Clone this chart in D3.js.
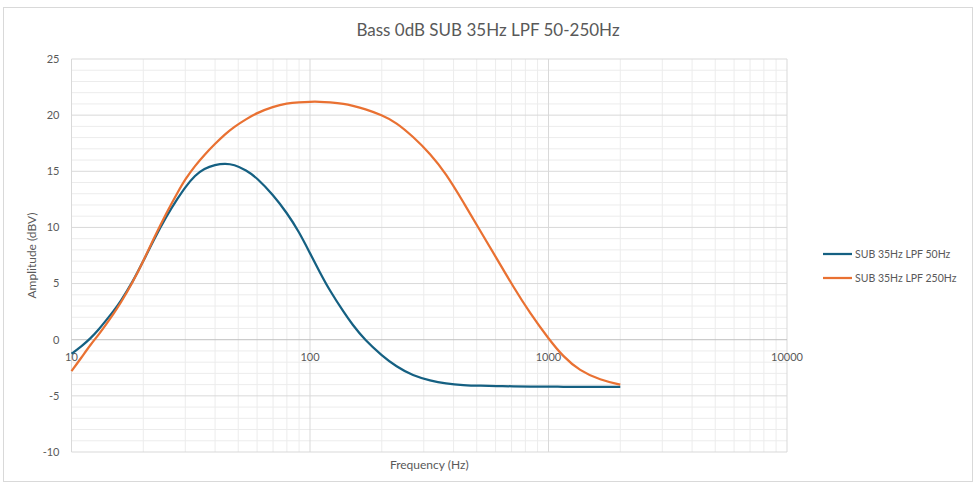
<!DOCTYPE html>
<html>
<head>
<meta charset="utf-8">
<script src="https://cdn.jsdelivr.net/npm/d3@7"></script>
<style>
  body { margin: 0; background: #fff; }
  svg { font-family: Lato, "Open Sans", sans-serif; }
</style>
</head>
<body>
<svg id="chart" width="976" height="485"></svg>
<script>
const freqs = [10, 11, 12, 13, 14, 15, 16, 18, 20, 22, 25, 28, 30, 33, 36, 40, 44, 48, 54, 60, 70, 80, 90, 100, 110, 120, 140, 150, 170, 200, 230, 270, 320, 370, 440, 520, 610, 710, 840, 1000, 1150, 1350, 1650, 2000];
const lpf50 = [-1.25, -0.6, 0.1, 0.9, 1.75, 2.55, 3.35, 5.1, 7.0, 8.8, 11.0, 12.65, 13.6, 14.65, 15.25, 15.58, 15.7, 15.6, 15.1, 14.4, 12.9, 11.3, 9.6, 7.7, 6.0, 4.5, 2.3, 1.4, -0.05, -1.4, -2.4, -3.2, -3.65, -3.9, -4.05, -4.1, -4.13, -4.15, -4.17, -4.18, -4.19, -4.2, -4.2, -4.2];
const lpf250 = [-2.8, -1.6, -0.45, 0.45, 1.4, 2.3, 3.2, 5.05, 7.0, 8.9, 11.3, 13.2, 14.3, 15.5, 16.45, 17.45, 18.3, 18.95, 19.65, 20.2, 20.75, 21.05, 21.15, 21.2, 21.2, 21.15, 21.0, 20.85, 20.55, 20.0, 19.35, 18.1, 16.55, 14.85, 12.25, 9.6, 7.15, 4.75, 2.3, 0.1, -1.5, -2.75, -3.6, -4.0];
const seriesNames = ["SUB 35Hz LPF 50Hz", "SUB 35Hz LPF 250Hz"];
const colors = ["#156082", "#E97132"];
const xTicks = [10, 100, 1000, 10000];
const yTicks = [-10, -5, 0, 5, 10, 15, 20, 25];

const svg = d3.select("#chart");
const margin = { top: 59, right: 189, bottom: 33, left: 71.5 };
const width = 976, height = 485;

// chart border
svg.append("rect")
  .attr("x", 3.5).attr("y", 7.5)
  .attr("width", 969).attr("height", 474)
  .attr("fill", "#fff").attr("stroke", "#d9d9d9");

const x = d3.scaleLog().domain([10, 10000]).range([margin.left, width - margin.right]);
const y = d3.scaleLinear().domain([-10, 25]).range([height - margin.bottom, margin.top]);

const grid = svg.append("g");

// minor gridlines
const minorX = [];
for (let d = 10; d < 10000; d *= 10) for (let k = 2; k <= 9; k++) minorX.push(d * k);
grid.selectAll(".mx").data(minorX).join("line")
  .attr("x1", (d) => x(d)).attr("x2", (d) => x(d))
  .attr("y1", y(-10)).attr("y2", y(25))
  .attr("stroke", "#ececec").attr("stroke-width", 1);
grid.selectAll(".my").data(d3.range(-10, 26).filter((d) => d % 5 !== 0)).join("line")
  .attr("x1", x(10)).attr("x2", x(10000))
  .attr("y1", (d) => y(d)).attr("y2", (d) => y(d))
  .attr("stroke", "#ececec").attr("stroke-width", 1);

// major gridlines
grid.selectAll(".Mx").data(xTicks).join("line")
  .attr("x1", (d) => x(d)).attr("x2", (d) => x(d))
  .attr("y1", y(-10)).attr("y2", y(25))
  .attr("stroke", "#d9d9d9");
grid.selectAll(".My").data(yTicks).join("line")
  .attr("x1", x(10)).attr("x2", x(10000))
  .attr("y1", (d) => y(d)).attr("y2", (d) => y(d))
  .attr("stroke", (d) => (d === 0 ? "#bfbfbf" : "#d9d9d9"));

// y axis labels
svg.append("g").selectAll("text").data(yTicks).join("text")
  .attr("x", margin.left - 12).attr("y", (d) => y(d)).attr("dy", "0.35em")
  .attr("text-anchor", "end").attr("font-size", 11).attr("fill", "#595959")
  .text((d) => d);

// x axis labels (axis crosses at 0)
svg.append("g").selectAll("text").data(xTicks).join("text")
  .attr("x", (d) => x(d)).attr("y", y(0) + 17).attr("dy", "0.35em")
  .attr("text-anchor", "middle").attr("font-size", 11).attr("fill", "#595959")
  .text((d) => d);

// lines
const line = d3.line()
  .x((d) => x(d[0]))
  .y((d) => y(d[1]))
  .curve(d3.curveBasis);

[lpf50, lpf250].forEach((vals, i) => {
  svg.append("path")
    .datum(freqs.map((f, j) => [f, vals[j]]))
    .attr("fill", "none")
    .attr("stroke", colors[i])
    .attr("stroke-width", 2.25)
    .attr("d", line);
});

// title
svg.append("text")
  .attr("x", 488).attr("y", 30).attr("dy", "0.35em")
  .attr("text-anchor", "middle").attr("font-size", 17).attr("fill", "#595959")
  .text("Bass 0dB SUB 35Hz LPF 50-250Hz");

// axis titles
svg.append("text")
  .attr("x", (x(10) + x(10000)) / 2).attr("y", 465).attr("dy", "0.35em")
  .attr("text-anchor", "middle").attr("font-size", 12).attr("fill", "#595959")
  .text("Frequency (Hz)");
svg.append("text")
  .attr("transform", `translate(32,${(y(-10) + y(25)) / 2}) rotate(-90)`)
  .attr("dy", "0.35em")
  .attr("text-anchor", "middle").attr("font-size", 12).attr("fill", "#595959")
  .text("Amplitude (dBV)");

// legend
const legend = svg.append("g").selectAll("g").data(seriesNames).join("g")
  .attr("transform", (d, i) => `translate(823,${254 + i * 24})`);
legend.append("line")
  .attr("x1", 0).attr("x2", 29).attr("y1", 0).attr("y2", 0)
  .attr("stroke", (d, i) => colors[i]).attr("stroke-width", 2.25);
legend.append("text")
  .attr("x", 32).attr("y", 0).attr("dy", "0.35em")
  .attr("font-size", 10.5).attr("fill", "#595959")
  .text((d) => d);
</script>
</body>
</html>
